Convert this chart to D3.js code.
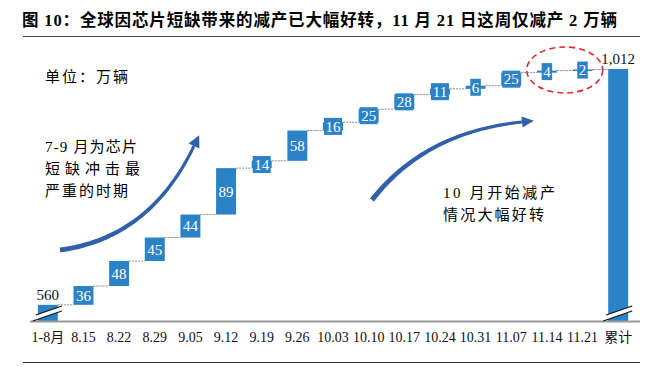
<!DOCTYPE html>
<html>
<head>
<meta charset="utf-8">
<script src="https://cdn.jsdelivr.net/npm/d3@7"></script>
<style>
  body { margin: 0; background: #fff; }
  svg { display: block; }
</style>
</head>
<body>
<script>
// waterfall of weekly production cuts caused by the chip shortage

var categories = ["1-8月", "8.15", "8.22", "8.29", "9.05", "9.12", "9.19", "9.26",
    "10.03", "10.10", "10.17", "10.24", "10.31", "11.07", "11.14", "11.21", "累计"];
var startValue = 560;                 // 1-8月 cumulative
var weekly = [36, 48, 45, 44, 89, 14, 58, 16, 25, 28, 11, 6, 25, 4, 2];
var totalValue = 1012;                // 累计
var unitText = "单位：万辆";
var noteLeft = ["7-9 月为芯片", "短缺冲击最", "严重的时期"];
var noteRight = ["10 月开始减产", "情况大幅好转"];
var titleText = "图  10：全球因芯片短缺带来的减产已大幅好转，11 月 21 日这周仅减产 2 万辆";

var w = 659, h = 367;
var blue = "#2B82C7";
var serif = "'Liberation Serif', 'Noto Sans CJK SC', serif";

var svg = d3.select("body").append("svg")
    .attr("width", w)
    .attr("height", h);

// title + rules
svg.append("text")
    .attr("x", 22)
    .attr("y", 26)
    .attr("textLength", 595)
    .attr("lengthAdjust", "spacing")
    .style("font-family", serif)
    .style("font-weight", "bold")
    .style("font-size", "16.5px")
    .text(titleText);

svg.append("line")
    .attr("x1", 23).attr("x2", 640)
    .attr("y1", 36.5).attr("y2", 36.5)
    .style("stroke", "#444");

svg.append("line")
    .attr("x1", 23).attr("x2", 640)
    .attr("y1", 362.5).attr("y2", 362.5)
    .style("stroke", "#333");

// build the steps (base / top for each bar)
var rows = [];
rows.push({cat: categories[0], lo: null, hi: startValue, v: startValue, kind: "end"});
var run = startValue;
weekly.forEach(function(v, i){
    rows.push({cat: categories[i + 1], lo: run, hi: run + v, v: v, kind: "step"});
    run += v;
});
rows.push({cat: categories[categories.length - 1], lo: null, hi: totalValue, v: totalValue, kind: "end"});

// scales (broken axis: bottom of chart is ~529, not 0)
var x = d3.scaleBand()
    .domain(categories)
    .range([30, 636])
    .paddingInner(0.44)
    .paddingOuter(0.22);

var y = d3.scaleLinear()
    .domain([529, 1012])
    .range([321, 69]);

var yBase = y.domain()[0];

// dotted connectors
var conn = rows.slice(0, rows.length - 1);
svg.selectAll(".conn")
    .data(conn)
    .enter()
    .append("line")
    .attr("class", "conn")
    .attr("x1", function(d){ return x(d.cat) + x.bandwidth(); })
    .attr("x2", function(d, i){ return x(rows[i + 1].cat); })
    .attr("y1", function(d){ return y(d.hi); })
    .attr("y2", function(d){ return y(d.hi); })
    .style("stroke", "#8a8a8a")
    .style("stroke-width", 1)
    .style("stroke-dasharray", "2,1");

// bars
svg.selectAll(".bar")
    .data(rows)
    .enter()
    .append("rect")
    .attr("class", "bar")
    .attr("x", function(d){ return x(d.cat); })
    .attr("width", x.bandwidth())
    .attr("y", function(d){ return y(d.hi); })
    .attr("height", function(d){
        var lo = d.lo === null ? yBase : d.lo;
        return Math.max(1.5, y(lo) - y(d.hi));
    })
    .style("fill", blue);

// axis along the bottom
var axis = svg.append("g")
    .attr("transform", "translate(0," + y(yBase) + ")")
    .call(d3.axisBottom(x).tickSize(0).tickPadding(11));
axis.select(".domain")
    .attr("d", "M30,0.5H640")
    .style("stroke", "#999")
    .style("stroke-width", 2);
axis.selectAll("text")
    .style("font-family", serif)
    .style("font-size", "14px")
    .style("fill", "#111");

// break marks on the two end bars
var ends = rows.filter(function(d){ return d.kind === "end"; });
var brk = svg.selectAll(".brk")
    .data(ends)
    .enter()
    .append("g")
    .attr("class", "brk")
    .attr("transform", function(d){
        return "translate(" + (x(d.cat) + x.bandwidth() / 2) + "," + (y(yBase) - 7) + ")";
    });
brk.append("polygon")
    .attr("points", "-15,7 14,-3 14,-8 -15,2")
    .style("fill", "#fff");
brk.append("line")
    .attr("x1", -15).attr("y1", 7).attr("x2", 14).attr("y2", -3)
    .style("stroke", "#111").style("stroke-width", 1.2);
brk.append("line")
    .attr("x1", -12).attr("y1", 1).attr("x2", 14).attr("y2", -8)
    .style("stroke", "#111").style("stroke-width", 1.2);

// value labels above the end bars
svg.selectAll(".endlab")
    .data(ends)
    .enter()
    .append("text")
    .attr("class", "endlab")
    .attr("x", function(d){ return x(d.cat) + x.bandwidth() / 2; })
    .attr("y", function(d){ return y(d.hi) - 5; })
    .attr("text-anchor", "middle")
    .style("font-family", serif)
    .style("font-size", "15px")
    .style("fill", "#111")
    .text(function(d){ return d3.format(",")(d.v); });

// boxed labels on the weekly steps
var steps = rows.filter(function(d){ return d.kind === "step"; });
var lab = svg.selectAll(".steplab")
    .data(steps)
    .enter()
    .append("g")
    .attr("class", "steplab")
    .attr("transform", function(d){
        var cy = (y(d.lo) + y(d.hi)) / 2;
        return "translate(" + (x(d.cat) + x.bandwidth() / 2) + "," + cy + ")";
    });
lab.append("rect")
    .attr("x", function(d){ var bw = String(d.v).length * 7.5 + 3; return -bw / 2; })
    .attr("width", function(d){ return String(d.v).length * 7.5 + 3; })
    .attr("y", -8.5)
    .attr("height", 17)
    .style("fill", blue);
lab.append("text")
    .attr("text-anchor", "middle")
    .attr("dy", "0.35em")
    .style("font-family", serif)
    .style("font-size", "15px")
    .style("fill", "#fff")
    .text(function(d){ return d.v; });

// text notes
svg.append("text")
    .attr("x", 45).attr("y", 82)
    .attr("textLength", 83)
    .attr("lengthAdjust", "spacing")
    .style("font-family", serif)
    .style("font-size", "15px")
    .text(unitText);

var leftLens = [92, 95, 83];
svg.selectAll(".noteL")
    .data(noteLeft)
    .enter()
    .append("text")
    .attr("class", "noteL")
    .attr("x", 45)
    .attr("y", function(d, i){ return 152 + i * 22; })
    .attr("textLength", function(d, i){ return leftLens[i]; })
    .attr("lengthAdjust", "spacing")
    .style("font-family", serif)
    .style("font-size", "15px")
    .text(function(d){ return d; });

var rightLens = [112, 101];
svg.selectAll(".noteR")
    .data(noteRight)
    .enter()
    .append("text")
    .attr("class", "noteR")
    .attr("x", 443)
    .attr("y", function(d, i){ return 198 + i * 22; })
    .attr("textLength", function(d, i){ return rightLens[i]; })
    .attr("lengthAdjust", "spacing")
    .style("font-family", serif)
    .style("font-size", "15px")
    .text(function(d){ return d; });

// curved arrows: tapered quadratic body + head
function curvedArrow(p0, p1, p2, w0, w1, headLen, headW){
    var left = [], right = [];
    var n = 40;
    for (var i = 0; i <= n; i++){
        var t = i / n, u = 1 - t;
        var px = u * u * p0[0] + 2 * u * t * p1[0] + t * t * p2[0];
        var py = u * u * p0[1] + 2 * u * t * p1[1] + t * t * p2[1];
        var dx = 2 * u * (p1[0] - p0[0]) + 2 * t * (p2[0] - p1[0]);
        var dy = 2 * u * (p1[1] - p0[1]) + 2 * t * (p2[1] - p1[1]);
        var len = Math.sqrt(dx * dx + dy * dy);
        var nx = -dy / len, ny = dx / len;
        var hw = (w0 * u + w1 * t) / 2;
        left.push([px + nx * hw, py + ny * hw]);
        right.push([px - nx * hw, py - ny * hw]);
    }
    var body = left.concat(right.reverse());
    var ex = p2[0] - p1[0], ey = p2[1] - p1[1];
    var el = Math.sqrt(ex * ex + ey * ey);
    ex /= el; ey /= el;
    var head = [
        [p2[0] + ex * headLen, p2[1] + ey * headLen],
        [p2[0] - ey * headW / 2, p2[1] + ex * headW / 2],
        [p2[0] + ey * headW / 2, p2[1] - ex * headW / 2]
    ];
    svg.append("polygon")
        .attr("points", body.map(function(p){ return p.join(","); }).join(" "))
        .style("fill", "#3160AB");
    svg.append("polygon")
        .attr("points", head.map(function(p){ return p.join(","); }).join(" "))
        .style("fill", "#3160AB");
}

curvedArrow([60, 250], [150, 238], [194, 146], 5, 3, 12, 12);
curvedArrow([372, 200], [425, 132], [522, 122], 5, 3, 12, 11);

// red dashed ellipse round the last two weeks
svg.append("ellipse")
    .attr("cx", (x("11.14") + x("11.21") + x.bandwidth()) / 2)
    .attr("cy", 70)
    .attr("rx", 38)
    .attr("ry", 23)
    .style("fill", "none")
    .style("stroke", "#E8262B")
    .style("stroke-width", 1.6)
    .style("stroke-dasharray", "6,4");
</script>
</body>
</html>
